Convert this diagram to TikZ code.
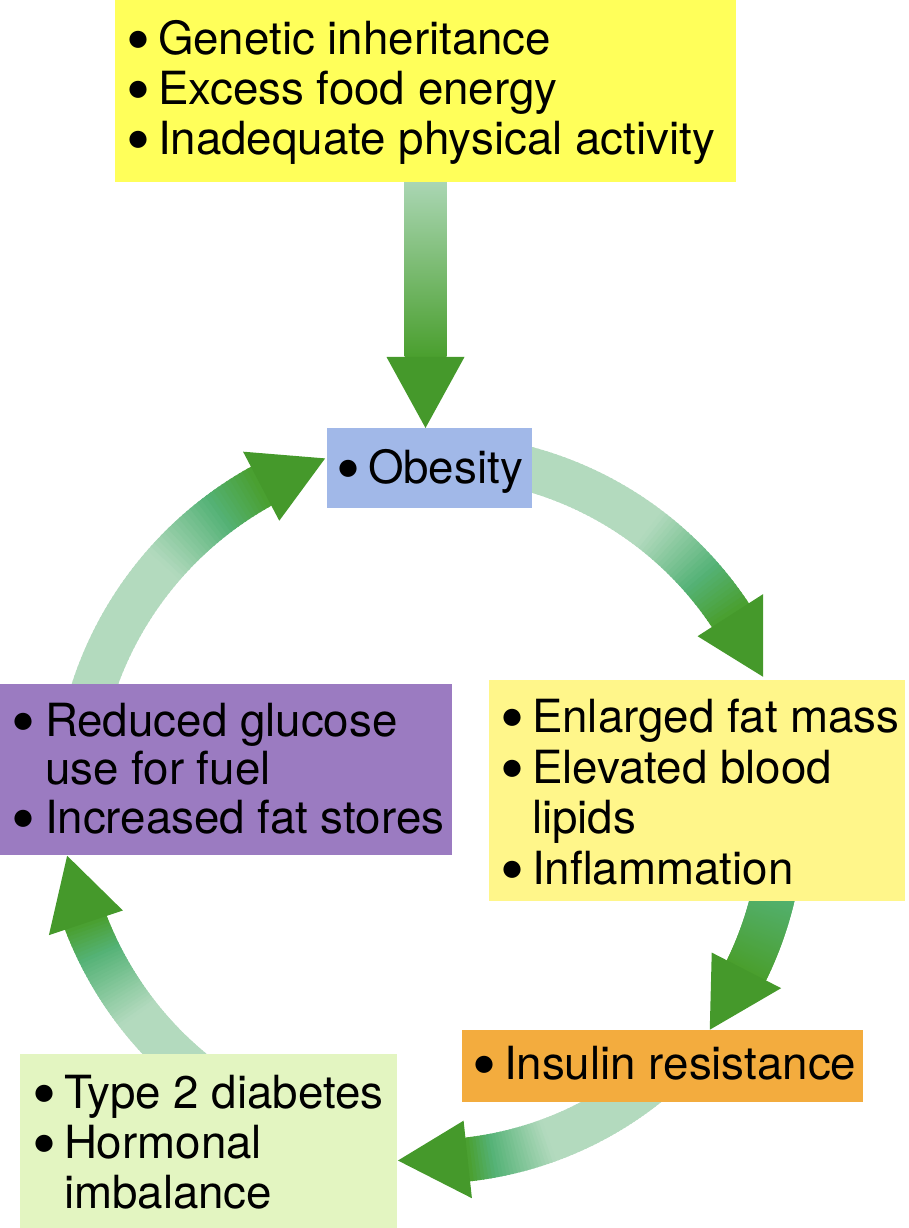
\documentclass[tikz,border=0pt]{standalone}
\usepackage{fontspec}
\setmainfont{TeX Gyre Heros}
\usepackage{graphicx}
\usetikzlibrary{calc}
\pgfdeclarelayer{bg}
\pgfsetlayers{bg,main}
\definecolor{ytop}{HTML}{FFFF5A}
\definecolor{obesc}{HTML}{A1B8E8}
\definecolor{ylite}{HTML}{FFF68A}
\definecolor{purp}{HTML}{9B7BC1}
\definecolor{orng}{HTML}{F3AC3E}
\definecolor{grnb}{HTML}{E3F5C1}
\definecolor{gl}{HTML}{B3DABE}
\definecolor{gla}{HTML}{AAD6B3}
\definecolor{gm}{HTML}{54B276}
\definecolor{gma}{HTML}{60B77D}
\definecolor{gd}{HTML}{4A9F2E}
\definecolor{gh}{HTML}{45992B}
\newcommand\bul{\raisebox{-8.8pt}{\scalebox{1.5}{\textbullet}}}
\newcommand\bc{\makebox[32pt][l]{\bul}}
% #1 start angle, #2 start radius, #3 tip angle, #4 tip radius, #5 a, #6 b
\newcommand\cycarrow[6]{%
  \pgfmathsetmacro\hdB{(#3)+70/(#4)*57.2958}%
  \foreach \i in {0,...,59}{%
    \pgfmathsetmacro\tA{(#1)-((#1)-(\hdB))*\i/60}%
    \pgfmathsetmacro\tB{(#1)-((#1)-(\hdB))*(\i+1)/60-0.3}%
    \pgfmathsetmacro\rA{(#2)+((#4)-(#2))*((#1)-(\tA))/((#1)-(#3))}%
    \pgfmathsetmacro\rB{(#2)+((#4)-(#2))*((#1)-(\tB))/((#1)-(#3))}%
    \pgfmathsetmacro\rAi{\rA-22}\pgfmathsetmacro\rAo{\rA+22}%
    \pgfmathsetmacro\rBi{\rB-22}\pgfmathsetmacro\rBo{\rB+22}%
    \pgfmathsetmacro\fr{(\i+0.5)/60}%
    \pgfmathtruncatemacro\pone{max(0,min(100,100*(\fr-(#5))/((#6)-(#5))))}%
    \pgfmathtruncatemacro\qq{100-max(0,min(100,100*(\fr-(#6))/(1-(#6))))}%
    \fill[color={gm!\pone!gl!\qq!gd}] (\tA:\rAi pt) -- (\tA:\rAo pt) -- (\tB:\rBo pt) -- (\tB:\rBi pt) -- cycle;
  }%
  \pgfmathsetmacro\rH{(#2)+((#4)-(#2))*((#1)-(\hdB))/((#1)-(#3))}%
  \pgfmathsetmacro\rHi{\rH-39}\pgfmathsetmacro\rHo{\rH+39}%
  \fill[gh] (#3:#4pt) -- (\hdB:\rHi pt) -- (\hdB:\rHo pt) -- cycle;
}
\begin{document}
\begin{tikzpicture}[x=1pt,y=1pt,
  box/.style={rectangle,inner sep=0pt,outer sep=0pt,draw=none},
  txt/.style={inner sep=0pt,outer sep=0pt,anchor=base west,font=\fontsize{45.7}{50}\selectfont}]
\useasboundingbox (0,0) rectangle (909,1228);
\coordinate (C) at (430,420);
% boxes
\node[box, fill=ytop, minimum width=621pt, minimum height=182pt, anchor=south west] (top) at (115,1046) {};
\node[box, fill=obesc, minimum width=205pt, minimum height=80pt, anchor=south west] (obes) at (327,720) {};
\node[box, fill=ylite, minimum width=416pt, minimum height=221pt, anchor=south west] (lip) at (489,327) {};
\node[box, fill=purp, minimum width=452pt, minimum height=171pt, anchor=south west] (fuel) at (0,373) {};
\node[box, fill=orng, minimum width=401pt, minimum height=72pt, anchor=south west] (ins) at (462,126) {};
\node[box, fill=grnb, minimum width=377pt, minimum height=174pt, anchor=south west] (dia) at (20,0) {};
% texts
\node[txt] (ttop) at (126,1173.5) {\begin{tabular}[t]{@{}l@{}l@{}}\bc & Genetic inheritance\\ \bc & Excess food energy\\ \bc & Inadequate physical activity\end{tabular}};
\node[txt] (tobes) at (336,744.5) {\bc Obesity};
\node[txt, font=\fontsize{45.7}{50.5}\selectfont] (tlip) at (500,495) {\begin{tabular}[t]{@{}l@{}l@{}}\bc & Enlarged fat mass\\ \bc & Elevated blood\\ & lipids\\ \bc & Inflammation\end{tabular}};
\node[txt, font=\fontsize{45.7}{48.5}\selectfont] (tfuel) at (11,491.5) {\begin{tabular}[t]{@{}l@{}l@{}}\makebox[34pt][l]{\bul} & Reduced glucose\\ & use for fuel\\ \makebox[34pt][l]{\bul} & Increased fat stores\end{tabular}};
\node[txt] (tins) at (472,148) {\bc Insulin resistance};
\node[txt] (tdia) at (32,119.7) {\begin{tabular}[t]{@{}l@{}l@{}}\bc & Type 2 diabetes\\ \bc & Hormonal\\ & imbalance\end{tabular}};
% arrows
\begin{pgfonlayer}{bg}
\coordinate (s0) at (top.south);
\coordinate (s1) at (top.south |- obes.north);
\shade[top color=gla, middle color=gma, bottom color=gd] ([xshift=-21pt]s0) rectangle ([xshift=21pt,yshift=71pt]s1);
\fill[gh] ([xshift=-39pt,yshift=71pt]s1) -- ([xshift=39pt,yshift=71pt]s1) -- (s1) -- cycle;
\begin{scope}[shift={(C)}]
\cycarrow{162}{357}{106.7}{365}{0.55}{0.82}
\cycarrow{75.5}{353}{21.5}{358}{0.55}{0.82}
\cycarrow{-13}{354}{-38.4}{357}{-1}{0}
\cycarrow{-50}{352}{-95.2}{354}{0.6}{0.88}
\cycarrow{232}{353}{187.5}{366}{0.5}{0.84}
\end{scope}
\end{pgfonlayer}
\end{tikzpicture}
\end{document}
